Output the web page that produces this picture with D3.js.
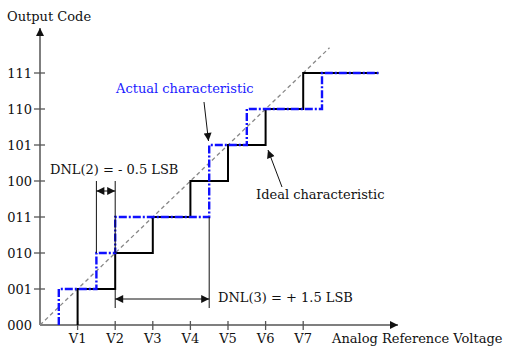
<!DOCTYPE html>
<html>
<head>
<meta charset="utf-8">
<script src="https://cdn.jsdelivr.net/npm/d3@7"></script>
<style>
  html, body { margin: 0; padding: 0; background: #fff; }
  svg text { font-family: "DejaVu Serif", serif; font-size: 13px; fill: #111; }
</style>
</head>
<body>
<div id="chart"></div>
<script>
/* Data
======================================================================= */
var codes = ['000', '001', '010', '011', '100', '101', '110', '111'], // Output codes
    voltLabels = ['V1', 'V2', 'V3', 'V4', 'V5', 'V6', 'V7'], // Reference voltages
    voltTicks = [1, 2, 3, 4, 5, 6, 7], // Tick positions, in LSB
    idealSteps = [1, 2, 3, 4, 5, 6, 7], // Where each ideal code starts
    actualSteps = [0.5, 1.5, 2, 4.5, 4.5, 5.5, 7.5], // Where each actual code starts
    stepEnd = 9, // Where the last code ends
    diagonal = [0, 7.7]; // Ideal straight line, start and end

/* Setup
======================================================================= */
var width = 513,
    height = 347;

var x = d3.scaleLinear().domain([0, 1]).range([40, 77.6]),
    y = d3.scaleLinear().domain([0, 7]).range([325, 73]);

var svg = d3.select('#chart').append('svg')
    .attr('width', width)
    .attr('height', height);

var defs = svg.append('defs');

// Filled arrow head
function marker(id, color) {
  defs.append('marker')
      .attr('id', id)
      .attr('viewBox', '0 0 10 10')
      .attr('refX', 10).attr('refY', 5)
      .attr('markerWidth', 9).attr('markerHeight', 8)
      .attr('markerUnits', 'userSpaceOnUse')
      .attr('orient', 'auto-start-reverse')
    .append('path')
      .attr('d', 'M0,0L10,5L0,10Z')
      .attr('fill', color);
}
marker('arrow', '#111');

// Turn a list of code start positions into a staircase
function staircase(steps) {
  var pts = [[steps[0], 0]];
  for (var k = 1; k <= steps.length; k++) {
    pts.push([steps[k - 1], k]);
    pts.push([k < steps.length ? steps[k] : stepEnd, k]);
  }
  return pts;
}

var line = d3.line()
    .x(function(d) { return x(d[0]); })
    .y(function(d) { return y(d[1]); });

/* Axes
======================================================================= */
var axisColor = '#555';

svg.append('line')
    .attr('x1', x(0)).attr('y1', y(0))
    .attr('x2', x(0)).attr('y2', 28)
    .attr('stroke', axisColor).attr('stroke-width', 1.5)
    .attr('marker-end', 'url(#arrow)');

svg.append('line')
    .attr('x1', x(0)).attr('y1', y(0))
    .attr('x2', 398).attr('y2', y(0))
    .attr('stroke', axisColor).attr('stroke-width', 1.5)
    .attr('marker-end', 'url(#arrow)');

// Y ticks and code labels
svg.selectAll('.ytick')
    .data(codes.slice(1))
  .enter().append('line')
    .attr('x1', x(0) - 6).attr('x2', x(0) + 5)
    .attr('y1', function(d, i) { return y(i + 1); })
    .attr('y2', function(d, i) { return y(i + 1); })
    .attr('stroke', axisColor).attr('stroke-width', 1.3);

svg.selectAll('.ylabel')
    .data(codes)
  .enter().append('text')
    .attr('x', 32)
    .attr('y', function(d, i) { return y(i) + 4.5; })
    .attr('text-anchor', 'end')
    .text(function(d) { return d; });

// X ticks and voltage labels
svg.selectAll('.xtick')
    .data(voltTicks)
  .enter().append('line')
    .attr('x1', function(d) { return x(d); })
    .attr('x2', function(d) { return x(d); })
    .attr('y1', y(0) - 4).attr('y2', y(0) + 5)
    .attr('stroke', axisColor).attr('stroke-width', 1.3);

svg.selectAll('.xlabel')
    .data(voltLabels)
  .enter().append('text')
    .attr('x', function(d, i) { return x(voltTicks[i]); })
    .attr('y', 343)
    .attr('text-anchor', 'middle')
    .text(function(d) { return d; });

svg.append('text').attr('x', 7).attr('y', 21).text('Output Code');
svg.append('text').attr('x', 332).attr('y', 343).text('Analog Reference Voltage');

/* Characteristics
======================================================================= */

// Ideal straight line
svg.append('line')
    .attr('x1', x(diagonal[0])).attr('y1', y(diagonal[0]))
    .attr('x2', x(diagonal[1])).attr('y2', y(diagonal[1]))
    .attr('stroke', '#888').attr('stroke-width', 1.3)
    .attr('stroke-dasharray', '4,3');

// Ideal staircase
svg.append('path')
    .attr('d', line(staircase(idealSteps)))
    .attr('fill', 'none')
    .attr('stroke', '#000').attr('stroke-width', 2);

// Actual staircase
svg.append('path')
    .attr('d', line(staircase(actualSteps)))
    .attr('fill', 'none')
    .attr('stroke', '#1010ff').attr('stroke-width', 2.4)
    .attr('stroke-dasharray', '8,2,2,2');

/* Annotations
======================================================================= */
function thin(x1, y1, x2, y2) {
  return svg.append('line')
      .attr('x1', x1).attr('y1', y1).attr('x2', x2).attr('y2', y2)
      .attr('stroke', '#111').attr('stroke-width', 1);
}

// DNL(2): width of code 010
thin(x(actualSteps[1]), y(4), x(actualSteps[1]), y(2));
thin(x(actualSteps[2]), y(4), x(actualSteps[2]), y(2));
thin(x(actualSteps[1]), 191, x(actualSteps[2]), 191)
    .attr('marker-start', 'url(#arrow)')
    .attr('marker-end', 'url(#arrow)');

// DNL(3): width of code 011
thin(x(actualSteps[2]), y(1), x(actualSteps[2]), 308);
thin(x(actualSteps[3]), y(3), x(actualSteps[3]), 308);
thin(x(actualSteps[2]), 299, x(actualSteps[3]), 299)
    .attr('marker-start', 'url(#arrow)')
    .attr('marker-end', 'url(#arrow)');

// Pointers to the two staircases
thin(204, 102, 208.5, 141).attr('marker-end', 'url(#arrow)');
thin(282, 187, 268, 150).attr('marker-end', 'url(#arrow)');

svg.append('text').attr('x', 116).attr('y', 93)
    .style('fill', '#1a1aff').text('Actual characteristic');
svg.append('text').attr('x', 256).attr('y', 199).text('Ideal characteristic');
svg.append('text').attr('x', 50).attr('y', 174).text('DNL(2) = - 0.5 LSB');
svg.append('text').attr('x', 218).attr('y', 302).text('DNL(3) = + 1.5 LSB');
</script>
</body>
</html>
